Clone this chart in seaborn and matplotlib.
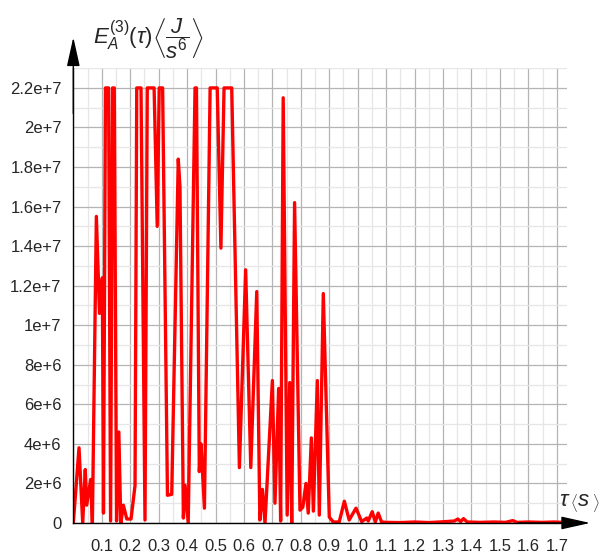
import numpy as np
import pandas as pd
import matplotlib
matplotlib.use("Agg")
import matplotlib.pyplot as plt
from matplotlib.ticker import FixedLocator, MultipleLocator
import seaborn as sns

# Values (tau in s, energy in units of 1e6)
tau = [0.000, 0.020, 0.033, 0.042, 0.047, 0.061, 0.067, 0.081, 0.092, 0.102,
       0.106, 0.113, 0.124, 0.131, 0.138, 0.144, 0.152, 0.160, 0.167, 0.176,
       0.188, 0.203, 0.217, 0.223, 0.238, 0.252, 0.260, 0.284, 0.295, 0.302,
       0.314, 0.331, 0.346, 0.369, 0.375, 0.387, 0.393, 0.404, 0.428, 0.433,
       0.443, 0.449, 0.461, 0.481, 0.506, 0.519, 0.530, 0.557, 0.584, 0.606,
       0.624, 0.645, 0.656, 0.665, 0.674, 0.700, 0.709, 0.722, 0.729, 0.738,
       0.752, 0.761, 0.768, 0.778, 0.797, 0.807, 0.818, 0.826, 0.837, 0.844,
       0.858, 0.865, 0.879, 0.900, 0.914, 0.935, 0.953, 0.970, 0.994, 1.014,
       1.032, 1.037, 1.051, 1.062, 1.072, 1.084, 1.100, 1.150, 1.200, 1.250,
       1.300, 1.340, 1.352, 1.362, 1.372, 1.385, 1.430, 1.480, 1.520, 1.545,
       1.560, 1.600, 1.650, 1.690, 1.720]
energy_e6 = [0.0, 3.8, 0.0, 2.7, 0.9, 2.2, 0.0, 15.5, 10.6, 12.4,
             0.5, 22.0, 22.0, 0.1, 22.0, 22.0, 0.1, 4.6, 0.0, 0.9,
             0.2, 0.2, 1.9, 22.0, 22.0, 0.15, 22.0, 22.0, 15.0, 22.0,
             22.0, 1.4, 1.45, 18.4, 17.0, 0.25, 1.9, 0.0, 22.0, 22.0,
             2.6, 4.0, 0.75, 22.0, 22.0, 13.9, 22.0, 22.0, 2.8, 12.8,
             2.8, 11.7, 0.15, 1.7, 0.0, 7.2, 1.0, 6.8, 0.1, 21.5,
             0.4, 7.1, 0.0, 16.2, 0.65, 0.8, 2.0, 0.5, 4.3, 0.6,
             7.2, 0.4, 11.6, 0.3, 0.05, 0.05, 1.1, 0.15, 0.75, 0.07,
             0.25, 0.1, 0.57, 0.05, 0.5, 0.05, 0.03, 0.02, 0.05, 0.02,
             0.06, 0.1, 0.2, 0.07, 0.22, 0.05, 0.03, 0.05, 0.03, 0.12,
             0.03, 0.05, 0.03, 0.05, 0.03]

x_ticks = [0.1, 0.2, 0.3, 0.4, 0.5, 0.6, 0.7, 0.8, 0.9, 1.0,
           1.1, 1.2, 1.3, 1.4, 1.5, 1.6, 1.7]
x_tick_labels = ["0.1", "0.2", "0.3", "0.4", "0.5", "0.6", "0.7", "0.8", "0.9",
                 "1.0", "1.1", "1.2", "1.3", "1.4", "1.5", "1.6", "1.7"]
y_ticks = [0, 2e6, 4e6, 6e6, 8e6, 1e7, 1.2e7, 1.4e7, 1.6e7, 1.8e7, 2e7, 2.2e7]
y_tick_labels = ["0", "2e+6", "4e+6", "6e+6", "8e+6", "1e+7", "1.2e+7",
                 "1.4e+7", "1.6e+7", "1.8e+7", "2e+7", "2.2e+7"]

df = pd.DataFrame({"tau": tau, "E": np.array(energy_e6) * 1e6})

sns.set_style("white")
plt.rcParams['font.family'] = ['Liberation Sans Narrow', 'Liberation Sans', 'DejaVu Sans']
plt.rcParams['mathtext.fontset'] = 'custom'
plt.rcParams['mathtext.it'] = 'Liberation Sans:italic'
plt.rcParams['mathtext.rm'] = 'Liberation Sans'

fig = plt.figure(figsize=(6.05, 5.54), dpi=100)
ax = fig.add_axes([0.1212, 0.056, 0.816, 0.821])

sns.lineplot(data=df, x="tau", y="E", color="#ff0000", linewidth=2.4,
             estimator=None, sort=False, ax=ax)

ax.set_xlim(0, 1.736)
ax.set_ylim(0, 2.30e7)

ax.xaxis.set_major_locator(FixedLocator(x_ticks))
ax.set_xticklabels(x_tick_labels)
ax.xaxis.set_minor_locator(MultipleLocator(0.05))
ax.yaxis.set_major_locator(FixedLocator(y_ticks))
ax.set_yticklabels(y_tick_labels)
ax.yaxis.set_minor_locator(MultipleLocator(1e6))

ax.grid(which='major', color='#b4b4b4', linewidth=0.9)
ax.grid(which='minor', color='#e6e6e6', linewidth=0.9)
ax.set_axisbelow(True)

ax.tick_params(axis='both', which='major', direction='inout', length=9,
               width=1, color='black', labelsize=12)
ax.tick_params(axis='both', which='minor', direction='inout', length=6,
               width=1, color='black')
ax.tick_params(axis='y', which='major', pad=4)
ax.tick_params(axis='x', which='major', pad=7)

for side in ['top', 'right']:
    ax.spines[side].set_visible(False)
for side in ['left', 'bottom']:
    ax.spines[side].set_color('black')
    ax.spines[side].set_linewidth(1)

ax.set_xlabel("")
ax.set_ylabel("")

# axis arrows
arrow = dict(arrowstyle='-|>,head_length=0.9,head_width=0.2', color='black',
             lw=1, mutation_scale=20, shrinkA=0, shrinkB=0)
ax.annotate('', xy=(1.047, 0), xytext=(0.9, 0), xycoords='axes fraction',
            arrowprops=arrow, annotation_clip=False)
ax.annotate('', xy=(0, 1.068), xytext=(0, 0.9), xycoords='axes fraction',
            arrowprops=arrow, annotation_clip=False)

fig.text(93 / 605, 1 - 39 / 554,
         r'$E_A^{(3)}(\tau)\left\langle\dfrac{J}{s^6}\right\rangle$',
         fontsize=16, ha='left', va='center')
fig.text(600 / 605, 1 - 503 / 554, r'$\tau\,\left\langle s^{\,}_{\,}\right\rangle$',
         fontsize=16, ha='right', va='center')

fig.savefig("out.png", dpi=100)
